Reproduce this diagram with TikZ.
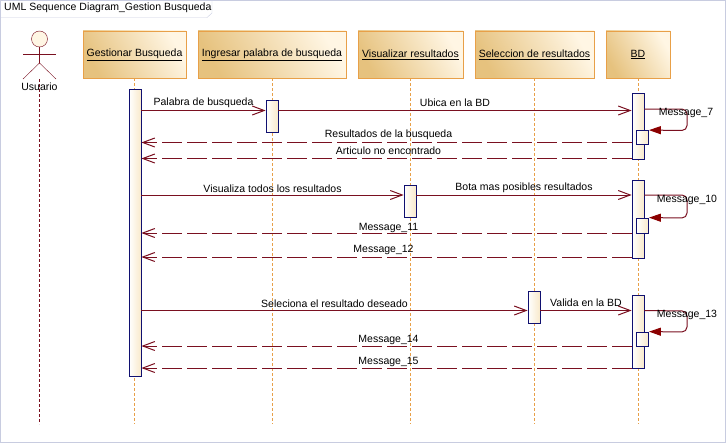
\documentclass[tikz,border=0pt]{standalone}
\usepackage{fontspec}
\setmainfont{Liberation Sans}
\usetikzlibrary{positioning,arrows.meta}
\definecolor{msgred}{HTML}{7A1020}
\definecolor{tipred}{HTML}{8B0000}
\definecolor{headline}{HTML}{E8A048}
\definecolor{headlight}{HTML}{FFF6E4}
\definecolor{headdark}{HTML}{E6C27E}
\definecolor{actnavy}{HTML}{101070}
\definecolor{framegrey}{HTML}{C8CCE0}
\begin{document}
\begin{tikzpicture}[x=1pt,y=-1pt,font=\fontsize{10.5}{12}\selectfont,
    headbox/.style={rectangle, draw=headline, thick, left color=headlight, right color=headdark, shading angle=-60, minimum height=47, inner sep=0},
    lifeline/.style={draw=headline, densely dashed},
    actbox/.style={rectangle, draw=actnavy, thick, left color=white, right color=headlight!75!headdark, minimum width=12, inner sep=0},
    msg/.style={draw=msgred, line width=1pt, -{Straight Barb[length=12pt,width=9pt]}},
    reply/.style={msg, dash pattern=on 20pt off 5pt},
    selfmsg/.style={draw=msgred, line width=1pt, rounded corners=5pt, -{Triangle[length=12pt,width=8pt,color=tipred]}},]
    \useasboundingbox (0,0) rectangle (727,444);
    % frame
    \draw[framegrey, very thick] (0.5,0.5) rectangle (725.5,442.5);
    \node[draw=none, inner sep=0, anchor=west] (title) at (4,8) {UML Sequence Diagram\_Gestion Busqueda};
    \draw[framegrey] (0.5,17.5) -- (207,17.5) -- (212,13) -- (212,0.5);
    \coordinate (bottom) at (0,424);
    % actor
    \node[circle, draw=msgred, fill=headlight, minimum size=16, inner sep=0] (actor) at (39.5,39) {};
    \coordinate (hip) at (39.5,63);
    \coordinate (handl) at (23,54);
    \coordinate (handr) at (56,54);
    \coordinate (footl) at (23,79);
    \coordinate (footr) at (56,79);
    \coordinate (crotch) at (39.5,79);
    \draw[msgred] (actor) -- (hip);
    \draw[msgred] (handl) -- (handr);
    \draw[msgred] (footl) -- (hip) -- (footr);
    \draw[msgred, thick, densely dashed] (crotch) -- (crotch |- bottom);
    \node (usuario) at (39.5,87) {Usuario};
    % heads
    \node[headbox, minimum width=103] (gestionar)  at (134.5,54.5) {\underline{Gestionar Busqueda}};
    \node[headbox, minimum width=148] (ingresar)   at (272,54.5)   {\underline{Ingresar palabra de busqueda}};
    \node[headbox, minimum width=105] (visualizar) at (410.5,54.5) {\underline{Visualizar resultados}};
    \node[headbox, minimum width=119] (seleccion)  at (534.5,54.5) {\underline{Seleccion de resultados}};
    \node[headbox, minimum width=64]  (bd)         at (638,54.5)   {\underline{BD}};
    % lifelines
    \draw[lifeline] (gestionar.south)  -- (gestionar.south |- bottom);
    \draw[lifeline] (ingresar.south)   -- (ingresar.south |- bottom);
    \draw[lifeline] (visualizar.south) -- (visualizar.south |- bottom);
    \draw[lifeline] (seleccion.south)  -- (seleccion.south |- bottom);
    \draw[lifeline] (bd.south)         -- (bd.south |- bottom);
    % activations
    \node[actbox, minimum height=287] (actG)  at (135,232.5) {};
    \node[actbox, minimum height=32]  (actI)  at (272,116)   {};
    \node[actbox, minimum height=32]  (actV)  at (410,201)   {};
    \node[actbox, minimum height=32]  (actS)  at (534,307)   {};
    \node[actbox, minimum height=66]  (actB1) at (638,126)   {};
    \node[actbox, minimum height=78]  (actB2) at (638,219)   {};
    \node[actbox, minimum height=73]  (actB3) at (638,331.5) {};
    \node[actbox, minimum height=14]  (inB1)  at (642.5,137.5) {};
    \node[actbox, minimum height=15]  (inB2)  at (642.5,225.5) {};
    \node[actbox, minimum height=14]  (inB3)  at (642.5,339)   {};
    % message rows
    \coordinate (m1) at (0,110.5);
    \coordinate (m2) at (0,195);
    \coordinate (m3) at (0,310.5);
    \coordinate (r1) at (0,142.5);
    \coordinate (r2) at (0,158.5);
    \coordinate (r3) at (0,233);
    \coordinate (r4) at (0,257);
    \coordinate (r5) at (0,346);
    \coordinate (r6) at (0,368);
    % lines
    \draw[msg] (actG.east |- m1) -- (actI.west |- m1) node[midway, above=-1pt]{Palabra de busqueda};
    \draw[msg] (actI.east |- m1) -- (actB1.west |- m1) node[midway, above=0pt]{Ubica en la BD};
    \draw[reply] (actB1.west |- r1) -- (actG.east |- r1) node[midway, xshift=2pt, above=-1pt]{Resultados de la busqueda};
    \draw[reply] (actB1.west |- r2) -- (actG.east |- r2) node[midway, xshift=2pt, above=0pt]{Articulo no encontrado};
    \draw[msg] (actG.east |- m2) -- (actV.west |- m2) node[midway, above=-1pt]{Visualiza todos los resultados};
    \draw[msg] (actV.east |- m2) -- (actB2.west |- m2) node[midway, above=-2pt]{Bota mas posibles resultados};
    \draw[reply] (actB2.west |- r3) -- (actG.east |- r3) node[midway, xshift=2pt, above=-4pt]{Message\_11};
    \draw[reply] (actB2.west |- r4) -- (actG.east |- r4) node[midway, xshift=-3pt, above=-2pt]{Message\_12};
    \draw[msg] (actG.east |- m3) -- (actS.west |- m3) node[midway, above=-1pt]{Seleciona el resultado deseado};
    \draw[msg] (actS.east |- m3) -- (actB3.west |- m3) node[midway, above=0pt]{Valida en la BD};
    \draw[reply] (actB3.west |- r5) -- (actG.east |- r5) node[midway, xshift=2pt, above=-3pt]{Message\_14};
    \draw[reply] (actB3.west |- r6) -- (actG.east |- r6) node[midway, xshift=2pt, above=-3pt]{Message\_15};
    % self messages
    \draw[selfmsg] (actB1.east |- 0,109) -- (687,109) -- (687,130.5) -- (inB1.north east);
    \draw[selfmsg] (actB2.east |- 0,195) -- (687,195) -- (687,218) -- (inB2.north east);
    \draw[selfmsg] (actB3.east |- m3) -- (687,311) -- (687,332) -- (inB3.north east);
    \node (m7)  at (686,113) {Message\_7};
    \node (m10) at (687,200) {Message\_10};
    \node (m13) at (687,315) {Message\_13};
\end{tikzpicture}
\end{document}
